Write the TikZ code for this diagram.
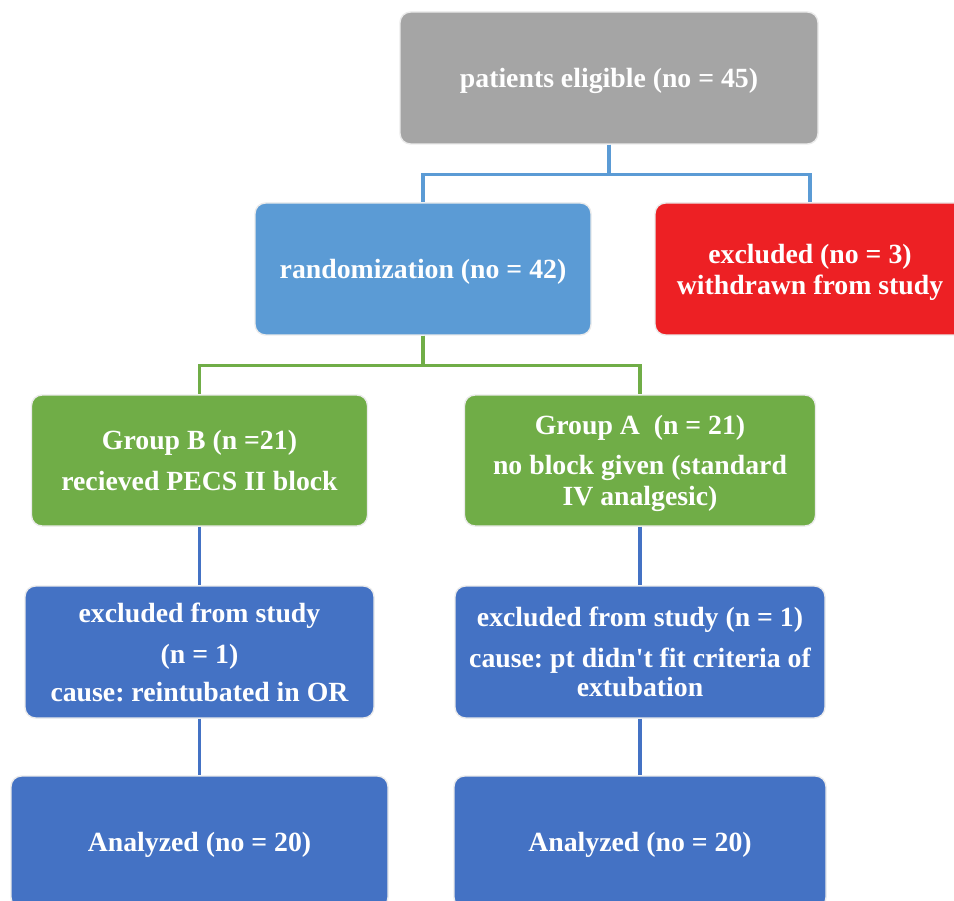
\documentclass[tikz,border=0pt]{standalone}
\usepackage{fontspec}
\setmainfont{Liberation Serif}[Ligatures=TeXOff]
\definecolor{boxgray}{HTML}{A5A5A5}
\definecolor{boxblue}{HTML}{5B9BD5}
\definecolor{boxred}{HTML}{ED2024}
\definecolor{boxgreen}{HTML}{70AD47}
\definecolor{boxdark}{HTML}{4472C4}
\begin{document}
\begin{tikzpicture}[box/.style={rounded corners=6pt, draw=black!8, line width=0.8pt, text=white, align=center,
      font=\fontsize{15.8}{17.5}\selectfont\bfseries\frenchspacing, minimum height=2.64cm},
    flat/.style={text depth=0pt},
    link/.style={line width=2pt}]
	\useasboundingbox (0,0) rectangle (19.08,-18.02);

	\node[box, flat, fill=boxgray, minimum width=8.36cm] (elig) at (12.18,-1.56) {patients eligible (no = 45)};
	\node[box, flat, fill=boxblue, minimum width=6.72cm] (rand) at (8.46,-5.38) {randomization (no = 42)};
	\node[box, flat, fill=boxred, minimum width=6.2cm] (excl) at (16.2,-5.38) {excluded (no = 3)\\withdrawn from study};

	\node[box, fill=boxgreen, minimum width=6.72cm, minimum height=2.62cm] (grpB) at (3.99,-9.21) {Group B (n =21)\\[6pt]recieved PECS II block};
	\node[box, flat, fill=boxgreen, minimum width=7.02cm, minimum height=2.62cm] (grpA) at (12.8,-9.21) {Group A\ \ (n = 21)\\[5pt]no block given (standard\\IV analgesic)};

	\node[box, fill=boxdark, minimum width=6.98cm] (exB) at (3.99,-13.04) {excluded from study\\[6pt](n = 1)\\[4pt]cause: reintubated in OR};
	\node[box, fill=boxdark, minimum width=7.4cm] (exA) at (12.8,-13.04) {excluded from study (n = 1)\\[6pt]cause: pt didn't fit criteria of\\[-1pt]extubation};

	\node[box, flat, fill=boxdark, minimum width=7.54cm] (anaB) at (3.99,-16.84) {Analyzed (no = 20)};
	\node[box, flat, fill=boxdark, minimum width=7.44cm] (anaA) at (12.8,-16.84) {Analyzed (no = 20)};

	% connectors
	\draw[link, boxblue] (elig.south) -- ++(0,-0.6) -| (rand.north);
	\draw[link, boxblue] (elig.south) -- ++(0,-0.6) -| (excl.north);
	\draw[link, boxgreen] (rand.south) -- ++(0,-0.6) -| (grpB.north);
	\draw[link, boxgreen] (rand.south) -- ++(0,-0.6) -| (grpA.north);
	\draw[link, boxdark] (grpB.south) -- (exB.north);
	\draw[link, boxdark] (grpA.south) -- (exA.north);
	\draw[link, boxdark] (exB.south) -- (anaB.north);
	\draw[link, boxdark] (exA.south) -- (anaA.north);
\end{tikzpicture}
\end{document}
